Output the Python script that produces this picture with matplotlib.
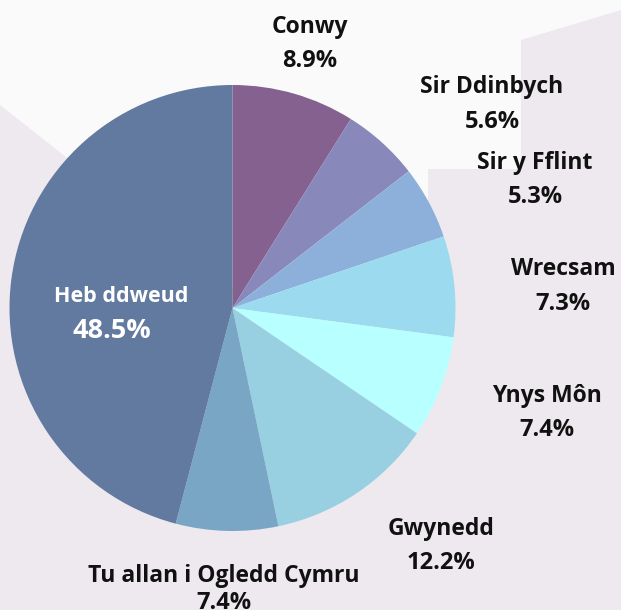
import matplotlib.pyplot as plt
from matplotlib.patches import Polygon

# data
regions = ["Conwy", "Sir Ddinbych", "Sir y Fflint", "Wrecsam", "Ynys Môn",
           "Gwynedd", "Tu allan i Ogledd Cymru", "Heb ddweud"]
pct_labels = ["8.9%", "5.6%", "5.3%", "7.3%", "7.4%", "12.2%", "7.4%", "48.5%"]
# slice sizes as drawn (the last slice is drawn smaller than its label says)
slice_sizes = [8.9, 5.6, 5.3, 7.3, 7.4, 12.2, 7.4, 45.9]

colors = ["#84618E", "#8888BA", "#8CB0DA", "#9CDAF0", "#B8FFFF",
          "#98D0E2", "#79A6C5", "#627A9F"]

# label centres in pixels (x, name line y, percent line y)
W, H = 621, 610
label_pos = [(310, 27, 61), (492, 87, 122), (535, 163, 197), (563, 269, 304),
             (547, 396, 430), (441, 529, 563), (224, 576, 603), (121, 297, 331)]

plt.rcParams['font.family'] = ['Open Sans', 'DejaVu Sans']

fig = plt.figure(figsize=(W / 100, H / 100), dpi=100)
fig.patch.set_facecolor("#EEE9EF")

# white background shape in the top part
white = [(0, 0), (621, 0), (621, 10), (521, 40), (521, 169), (428, 169),
         (428, 302), (250, 302), (0, 105)]
fig.patches.append(Polygon([(x / W, 1 - y / H) for x, y in white], closed=True,
                           transform=fig.transFigure, facecolor="#FAFAFB",
                           edgecolor="none", zorder=-5))

cx, cy, r = 232.5, 308, 223
ax = fig.add_axes([(cx - r) / W, 1 - (cy + r) / H, 2 * r / W, 2 * r / H])
ax.set_zorder(2)
ax.pie(slice_sizes, colors=colors, startangle=90, counterclock=False,
       wedgeprops={"linewidth": 0})
ax.set_xlim(-1, 1)
ax.set_ylim(-1, 1)
ax.axis("off")

for i, (name, pct) in enumerate(zip(regions, pct_labels)):
    x, y1, y2 = label_pos[i]
    inside = name == "Heb ddweud"
    c = "white" if inside else "#111111"
    fig.text(x / W, 1 - y1 / H, name, ha="center", va="center",
             fontsize=15.5 if inside else 16.5, fontweight="bold", color=c, zorder=5)
    fig.text((x - 9 if inside else x) / W, 1 - y2 / H, pct, ha="center", va="center",
             fontsize=19.5 if inside else 17, fontweight="bold", color=c, zorder=5)

fig.savefig("out.png", dpi=100, facecolor=fig.get_facecolor())
